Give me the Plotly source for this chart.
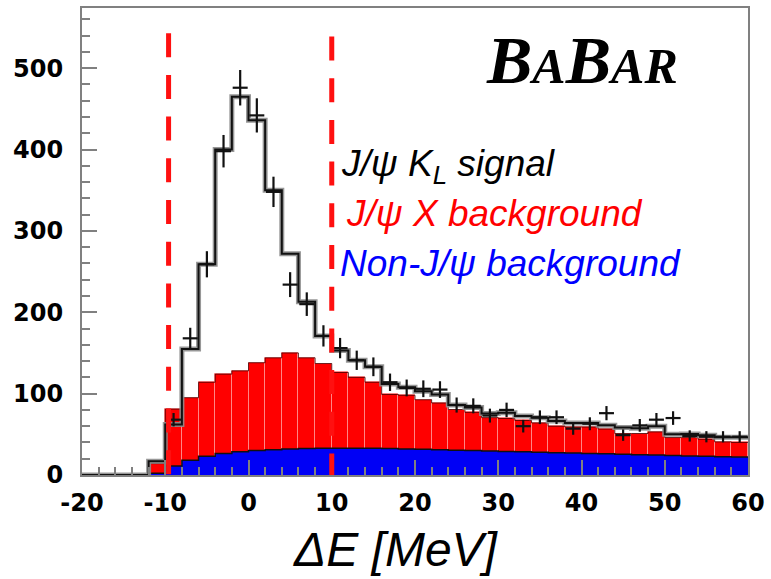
import numpy as np
import plotly.graph_objects as go

# Delta E binning: 2 MeV bins from -20 to 60 MeV
bin_lo = np.arange(-20, 60, 2)
bin_width = 2.0
bin_center = bin_lo + bin_width / 2

# Fitted total (signal + backgrounds), events per bin
total_fit = [0, 0, 0, 0, 17, 62, 155, 259, 400, 465, 436, 350, 272, 213, 171,
             153, 141, 133, 112, 108, 103, 99, 86, 83, 75.5, 76.5, 72.5, 70.5,
             66.5, 64, 64, 61, 58.5, 57.5, 60, 50, 50.5, 49, 46.5, 46.5]

# J/psi X background component
jpsi_x_bkg = [0, 0, 0, 0, 14, 81, 95, 114, 124, 128, 138, 144, 150, 144, 137,
              126, 120, 114, 99, 98, 92.5, 88.5, 80.5, 77, 70.5, 69.5, 67, 64,
              60, 59, 59, 56.5, 51, 51, 53, 46, 46, 44, 40.7, 40]

# Non-J/psi background component
non_jpsi_bkg = [0, 0, 0, 0, 2, 11, 18, 23, 26.5, 28.5, 30, 31, 32, 32.5, 33,
                33, 33, 33, 32.5, 32, 31.5, 31, 30.5, 30, 29.5, 29, 28.5, 28,
                27.5, 27, 26.5, 26, 25.5, 25, 24.5, 24, 23.5, 23, 22.5, 22]

# Observed events (data points at bin centres)
data_x = [-9, -7, -5, -3, -1, 1, 3, 5, 7, 9, 11, 13, 15, 17, 19, 21, 23, 25,
          27, 29, 31, 33, 35, 37, 39, 41, 43, 45, 47, 49, 51, 53, 55, 57, 59]
data_n = [68, 168, 259, 398, 476, 442, 348, 234, 210, 171, 156, 141, 133, 114,
          107, 106, 105, 86, 85, 73, 80, 60, 71, 71, 57, 63, 76, 49, 61, 68,
          70, 48, 47, 47, 47]

# Signal-region cut lines on Delta E
cut_lo = -9.6
cut_hi = 10.0

x_ticks = [-20, -10, 0, 10, 20, 30, 40, 50, 60]
y_ticks = [0, 100, 200, 300, 400, 500]


def step_xy(values):
    xs = list(bin_lo) + [bin_lo[-1] + bin_width]
    ys = list(values) + [values[-1]]
    return xs, ys


fig = go.Figure()

# filled background components
fig.add_trace(go.Bar(
    x=bin_center, y=jpsi_x_bkg, width=bin_width,
    marker=dict(color="#ff0000", line=dict(color="rgba(255,140,140,0.9)", width=1)),
    showlegend=False, hoverinfo="skip"))
fig.add_trace(go.Bar(
    x=bin_center, y=non_jpsi_bkg, width=bin_width,
    marker=dict(color="#0000f5", line=dict(width=0)),
    showlegend=False, hoverinfo="skip"))

sx, sy = step_xy(jpsi_x_bkg)
fig.add_trace(go.Scatter(x=sx, y=sy, mode="lines", line=dict(shape="hv", color="rgba(70,0,0,0.8)", width=1),
                         showlegend=False, hoverinfo="skip"))
sx, sy = step_xy(non_jpsi_bkg)
fig.add_trace(go.Scatter(x=sx, y=sy, mode="lines", line=dict(shape="hv", color="#101010", width=1.5),
                         showlegend=False, hoverinfo="skip"))

# total fit: grey halo with black core
sx, sy = step_xy(total_fit)
fig.add_trace(go.Scatter(x=sx, y=sy, mode="lines", line=dict(shape="hv", color="rgba(140,140,140,0.9)", width=5),
                         showlegend=False, hoverinfo="skip"))
fig.add_trace(go.Scatter(x=sx, y=sy, mode="lines", line=dict(shape="hv", color="#111111", width=2),
                         showlegend=False, hoverinfo="skip"))

# data with Poisson errors
fig.add_trace(go.Scatter(
    x=data_x, y=data_n, mode="markers",
    marker=dict(size=1, color="#111111"),
    error_y=dict(type="data", array=list(np.sqrt(data_n)), color="#111111", thickness=2.2, width=0),
    error_x=dict(type="constant", value=0.9, color="#111111", thickness=2.2, width=0),
    showlegend=False, hoverinfo="skip"))

# dashed cut lines
for xc, ytop in [(cut_lo, 543), (cut_hi, 539)]:
    fig.add_shape(type="line", xref="x", yref="y", x0=xc, x1=xc, y0=ytop, y1=-2,
                  line=dict(color="#ff1010", width=5, dash="24px,17.7px"), layer="above")

legend_font = dict(family="Liberation Sans", size=37, style="italic")
fig.add_annotation(x=10.9, y=380, xref="x", yref="y", xanchor="left", yanchor="middle",
                   text="J/ψ K<sub>L</sub> signal", showarrow=False,
                   font=dict(color="#000000", **legend_font))
fig.add_annotation(x=11.5, y=321, xref="x", yref="y", xanchor="left", yanchor="middle",
                   text="J/ψ X background", showarrow=False,
                   font=dict(color="#ff0000", **legend_font))
fig.add_annotation(x=10.8, y=260, xref="x", yref="y", xanchor="left", yanchor="middle",
                   text="Non-J/ψ background", showarrow=False,
                   font=dict(color="#0000ff", **legend_font))

# experiment logo
fig.add_annotation(
    x=40.1, y=510, xref="x", yref="y", xanchor="center", yanchor="middle",
    text="B<span style='font-size:50px'>A</span>B<span style='font-size:50px'>AR</span>",
    showarrow=False,
    font=dict(family="Liberation Serif", size=68, weight="bold", style="italic", color="#000000"))

# x axis title
fig.add_annotation(x=0.4716, y=-0.16, xref="paper", yref="paper", xanchor="center", yanchor="middle",
                   text="ΔE [MeV]", showarrow=False,
                   font=dict(family="Liberation Sans", size=48, style="italic", color="#000000"))

axis_common = dict(
    showgrid=False, zeroline=False, showline=True, mirror=True,
    linecolor="#808080", linewidth=2,
    ticks="inside", tickcolor="#808080", tickwidth=1.5, ticklen=15,
    tickfont=dict(family="DejaVu Sans", size=24, weight="bold", color="#000000"),
)

fig.update_xaxes(range=[-20, 60], tickvals=x_ticks, ticktext=[str(v) for v in x_ticks],
                 minor=dict(dtick=2, ticks="inside", ticklen=8, tickcolor="#808080", tickwidth=1.5),
                 ticklabelstandoff=5, **axis_common)
fig.update_yaxes(range=[0, 574], tickvals=y_ticks, ticktext=[str(v) for v in y_ticks],
                 minor=dict(dtick=20, ticks="inside", ticklen=8, tickcolor="#808080", tickwidth=1.5),
                 ticklabelstandoff=12, **axis_common)

fig.update_layout(
    width=771, height=579,
    margin=dict(l=82, r=21, t=6, b=104),
    barmode="overlay", bargap=0,
    plot_bgcolor="#ffffff", paper_bgcolor="#ffffff",
    showlegend=False,
)

fig.write_html("out.html")
